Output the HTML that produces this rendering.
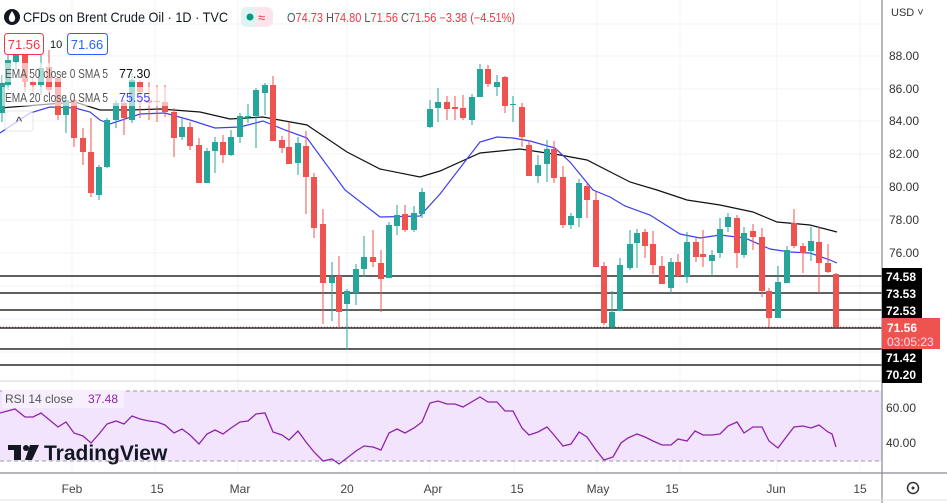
<!DOCTYPE html>
<html><head><meta charset="utf-8"><style>
body{margin:0;width:947px;height:503px;overflow:hidden;background:#fff;font-family:"Liberation Sans",sans-serif;}
svg{position:absolute;left:0;top:0}
text{font-family:"Liberation Sans",sans-serif}
</style></head><body>
<svg id="s" width="947" height="503" xmlns="http://www.w3.org/2000/svg">
<g stroke="#f0f3fa" stroke-width="1" id="grid"></g>
<rect x="0" y="391" width="882" height="70" fill="#f3e4fd"/>
<line x1="0" y1="391" x2="882" y2="391" stroke="#9a9aa6" stroke-dasharray="4,3"/>
<line x1="0" y1="461" x2="882" y2="461" stroke="#9a9aa6" stroke-dasharray="4,3"/>
<g id="hl" stroke="#000" stroke-width="1.3"></g>
<line x1="0" y1="327" x2="882" y2="327" stroke="#ef5350" stroke-dasharray="1,2"/>
<polyline fill="none" stroke="#111" stroke-width="1.2" points="0,108 50,104 75,102 100,110 130,110 160,109 200,112 230,119 263,117 285,121 307,125 347,152 380,169 420,177 440,171 480,153 520,149 560,155 587,160 630,182 657,190 687,200 720,205 753,212 777,222 810,225 837,232"/>
<polyline fill="none" stroke="#3d3df0" stroke-width="1.2" points="0,133 30,113 50,107 75,108 90,112 100,120 110,124 140,114 165,113 190,120 215,128 240,127 263,121 285,130 307,138 345,190 380,217 420,216 440,194 480,142 497,137 513,138 530,141 555,148 570,162 593,190 610,197 625,206 650,215 680,234 700,238 720,235 745,238 770,249 790,252 810,253 830,260 837,263"/>
<g id="c"></g>
<polyline fill="none" stroke="#8e24aa" stroke-width="1.3" points="0,413 15,409 25,417 33,417 41,413 58,427 66,422 74,433 83,436 91,443 99,434 107,424 116,421 124,424 132,416 140,419 149,421 157,422 165,425 174,433 182,429 190,435 199,444 207,434 215,430 223,434 231,428 240,422 248,421 256,414 265,413 273,432 282,435 289,440 298,431 306,442 314,452 323,461 332,459 339,464 347,458 356,451 364,446 373,447 381,450 389,433 397,429 405,433 414,428 422,422 430,403 438,401 447,404 455,404 463,407 480,397 488,402 497,402 505,411 513,411 522,428 529,435 538,432 547,427 554,435 563,446 571,444 579,432 587,437 596,450 604,460 613,457 621,443 628,438 637,434 645,437 653,441 662,445 671,445 678,439 687,441 695,431 703,435 712,435 720,434 728,426 737,422 744,433 753,427 762,427 769,441 778,448 787,436 794,427 803,426 811,428 819,425 828,432 832,434 836,447"/>
<rect x="2" y="63" width="168" height="19" fill="#fff" opacity="0.6"/>
<rect x="2" y="87" width="168" height="19" fill="#fff" opacity="0.6"/>
<rect x="5" y="111" width="28" height="20" rx="3" fill="#fff" opacity="0.7" stroke="#ddd"/>
<text x="19" y="126" font-size="13" text-anchor="middle" fill="#333">^</text>
<rect x="2" y="390" width="122" height="18" fill="#f7effd"/>
<line x1="0" y1="381" x2="882" y2="381" stroke="#d6d6dc"/>
<line x1="0" y1="473" x2="947" y2="473" stroke="#8a8a94" stroke-width="1.2"/>
<line x1="882" y1="0" x2="882" y2="503" stroke="#8a8a94" stroke-width="1.2"/>
<line x1="0" y1="500" x2="947" y2="500" stroke="#e0e3eb"/>
<circle cx="12" cy="17" r="8" fill="#131722"/>
<path d="M12 11 Q8 17 9 19 A3 3 0 0 0 15 19 Q16 17 12 11Z" fill="#fff"/>
<text x="23" y="22" font-size="14" fill="#131722" textLength="205" lengthAdjust="spacingAndGlyphs">CFDs on Brent Crude Oil · 1D · TVC</text>
<rect x="241" y="7" width="32" height="20" rx="6" fill="#fce4ec"/>
<rect x="241" y="7" width="16" height="20" rx="6" fill="#e0f2f1"/>
<circle cx="250" cy="17" r="3.5" fill="#089981"/>
<text x="258" y="22" font-size="13" fill="#f23645">≈</text>
<text x="287" y="22" font-size="12.5" fill="#f23645" textLength="228" lengthAdjust="spacingAndGlyphs"><tspan fill="#555">O</tspan>74.73 <tspan fill="#555">H</tspan>74.80 <tspan fill="#555">L</tspan>71.56 <tspan fill="#555">C</tspan>71.56 −3.38 (−4.51%)</text>
<rect x="4.5" y="33.5" width="39" height="21" rx="3" fill="#fff" stroke="#f23645"/>
<text x="24" y="49" font-size="13" text-anchor="middle" fill="#f23645">71.56</text>
<text x="50" y="48" font-size="11" fill="#131722">10</text>
<rect x="67.5" y="33.5" width="40" height="21" rx="3" fill="#fff" stroke="#2962ff"/>
<text x="87" y="49" font-size="13" text-anchor="middle" fill="#2962ff">71.66</text>
<text x="5" y="78" font-size="12.5" fill="#555" textLength="103" lengthAdjust="spacingAndGlyphs">EMA 50 close 0 SMA 5</text>
<text x="119" y="78" font-size="12.5" fill="#111">77.30</text>
<text x="5" y="102" font-size="12.5" fill="#555" textLength="103" lengthAdjust="spacingAndGlyphs">EMA 20 close 0 SMA 5</text>
<text x="119" y="102" font-size="12.5" fill="#3d3df0">75.55</text>
<text x="5" y="403" font-size="12" fill="#555">RSI 14 close</text>
<text x="88" y="403" font-size="12" fill="#8e24aa">37.48</text>
<rect x="8" y="445" width="13" height="5" fill="#131722"/><rect x="14" y="445" width="7" height="15" fill="#131722"/>
<circle cx="26" cy="448" r="3" fill="#131722"/><path d="M30 445 L39 445 L32 460 L25 460Z" fill="#131722"/>
<text x="44" y="460" font-size="21" font-weight="bold" fill="#131722">TradingView</text>
<text x="891" y="16" font-size="11" fill="#333">USD ˅</text>
<g font-size="12" fill="#333" id="ax"></g>
<g id="lab" font-size="12" font-weight="bold"></g>
<text x="901" y="412" font-size="12" fill="#333" text-anchor="middle">60.00</text>
<text x="901" y="447" font-size="12" fill="#333" text-anchor="middle">40.00</text>
<circle cx="913" cy="488" r="5.5" fill="none" stroke="#333" stroke-width="1.5"/><circle cx="913" cy="488" r="1.5" fill="#333"/>
<g font-size="12" fill="#444" text-anchor="middle">
<text x="72" y="493">Feb</text><text x="157" y="493">15</text><text x="240" y="493">Mar</text><text x="347" y="493">20</text><text x="433" y="493">Apr</text><text x="517" y="493">15</text><text x="598" y="493">May</text><text x="672" y="493">15</text><text x="776" y="493">Jun</text><text x="860" y="493">15</text>
</g>
</svg>
<script>
var NS="http://www.w3.org/2000/svg",g=document.getElementById('grid');
function el(p,t,a,tx){var e=document.createElementNS(NS,t);for(var k in a)e.setAttribute(k,a[k]);if(tx)e.textContent=tx;p.appendChild(e);return e;}
[24,56,89,121,154,187,220,253,286,319,352].forEach(function(y){el(g,'line',{x1:0,y1:y,x2:882,y2:y});});
[408,426,443].forEach(function(y){el(g,'line',{x1:0,y1:y,x2:882,y2:y});});
[72,155,238,347,430,514,597,680,777,860].forEach(function(x){el(g,'line',{x1:x,y1:0,x2:x,y2:473});});
var hl=document.getElementById('hl');
[276,293,310,328,349,365].forEach(function(y){el(hl,'line',{x1:0,y1:y,x2:882,y2:y});});
var ax=document.getElementById('ax');
[["88.00",56],["86.00",89],["84.00",121],["82.00",154],["80.00",187],["78.00",220],["76.00",253]].forEach(function(a){el(ax,'text',{x:889,y:a[1]+4},a[0]);});
var lab=document.getElementById('lab');
[["74.58",276],["73.53",293],["72.53",310],["71.42",357],["70.20",374]].forEach(function(a){el(lab,'rect',{x:882,y:a[1]-8,width:40,height:17,fill:'#000'});el(lab,'text',{x:886,y:a[1]+5,fill:'#fff'},a[0]);});
el(lab,'rect',{x:882,y:318,width:58,height:31,fill:'#ef5350'});
el(lab,'text',{x:887,y:332,fill:'#fff'},"71.56");
el(lab,'text',{x:887,y:346,fill:'#fde',"font-weight":"normal"},"03:05:23");
var C=[[2,1,83,113,75,122],[8,1,60,85,55,90],[16,1,55,62,50,70],[25,0,48,82,45,92],[33,0,82,85,78,92],[41,1,68,85,55,95],[49,0,67,90,50,95],[58,0,78,115,78,120],[66,1,100,115,95,133],[74,0,100,138,95,147],[83,0,138,152,128,165],[91,0,152,193,118,197],[99,1,167,195,165,200],[107,1,120,167,118,168],[116,1,103,120,100,128],[124,0,103,118,100,135],[132,1,80,120,73,123],[140,0,82,92,80,118],[149,0,100,103,82,120],[157,0,101,102,85,122],[165,0,102,112,85,117],[174,0,112,138,108,157],[182,1,127,137,118,140],[190,0,127,146,122,150],[199,0,145,183,138,183],[207,1,151,183,148,183],[215,1,142,151,137,173],[223,0,142,155,135,163],[231,1,137,155,130,156],[240,1,116,137,113,143],[248,1,116,117,104,123],[256,1,90,116,88,148],[265,1,85,93,83,115],[273,0,85,141,76,141],[282,0,140,148,136,153],[289,0,147,164,122,164],[298,1,143,163,137,175],[306,0,146,177,131,214],[314,0,177,228,173,238],[323,0,224,283,209,324],[332,1,277,283,262,321],[339,0,276,312,256,328],[347,1,291,304,289,350],[356,1,269,293,264,305],[364,1,257,269,236,277],[373,0,257,262,230,267],[381,0,263,279,250,312],[389,1,225,278,222,278],[397,1,215,226,205,235],[405,0,214,230,205,232],[414,1,213,230,206,232],[422,1,192,214,188,218],[430,1,109,127,100,128],[438,1,102,108,88,122],[447,0,102,109,96,120],[455,0,107,109,96,120],[463,0,108,118,95,120],[472,1,97,120,94,125],[480,1,69,97,64,97],[488,0,69,84,65,87],[497,1,82,87,75,96],[505,0,77,106,76,113],[513,1,104,105,96,122],[522,0,107,137,103,147],[529,0,145,176,140,176],[538,1,165,176,155,183],[547,1,149,164,140,182],[554,0,149,178,141,183],[563,0,177,225,166,228],[571,1,216,225,213,229],[579,1,183,218,179,227],[587,0,186,200,183,218],[596,0,200,267,192,267],[604,0,266,323,262,325],[612,1,312,327,291,329],[620,1,265,311,258,311],[630,1,244,268,230,270],[637,1,233,243,229,268],[645,0,232,246,229,258],[653,0,244,265,231,274],[662,0,266,284,256,284],[671,1,262,288,258,293],[678,0,262,276,254,277],[687,1,242,277,232,283],[696,0,242,257,238,262],[703,0,254,257,230,267],[712,1,255,261,250,276],[720,1,229,253,218,258],[728,1,217,227,213,232],[737,0,218,253,215,268],[744,1,233,255,227,258],[753,0,231,237,224,250],[762,0,237,291,228,297],[769,0,291,318,288,327],[778,1,282,318,266,318],[787,1,250,283,246,283],[794,0,223,246,209,248],[803,0,246,253,243,273],[811,1,241,251,227,261],[819,0,242,263,227,293],[828,0,263,272,244,273],[836,0,274,327,273,327]];
var cg=document.getElementById('c');
C.forEach(function(d){var col=d[1]?'#26a69a':'#ef5350';el(cg,'line',{x1:d[0],y1:d[4],x2:d[0],y2:d[5],stroke:col,'stroke-width':1});var h=Math.max(1,d[3]-d[2]);el(cg,'rect',{x:d[0]-3,y:d[2],width:6,height:h,fill:col});});
</script>
</body></html>
